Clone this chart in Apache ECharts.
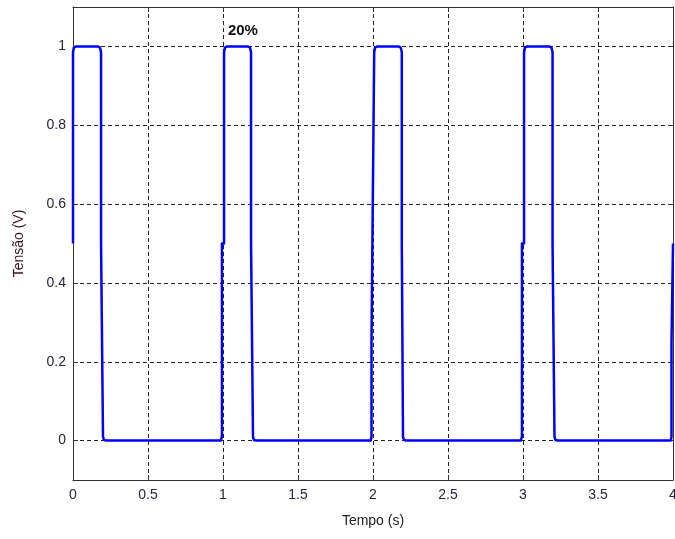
<!DOCTYPE html>
<html>
<head>
<meta charset="utf-8">
<script src="https://cdn.jsdelivr.net/npm/echarts@6/dist/echarts.min.js"></script>
<style>html,body{margin:0;padding:0;background:#fff}#c{width:675px;height:539px}</style>
</head>
<body>
<div id="c"></div>
<script>
// Data (time in s, voltage in V)
var time = [
  0, 0, 0.006, 0.02, 0.165, 0.18, 0.187, 0.187, 0.2, 0.2, 0.206, 0.22,
  0.985, 0.993, 0.993, 1.007, 1.007, 1.013, 1.027, 1.165, 1.18, 1.187, 1.187, 1.2, 1.2, 1.206, 1.22,
  1.985, 1.99, 1.99, 1.996, 1.996, 2.008, 2.008, 2.014, 2.028, 2.17, 2.185, 2.192, 2.192, 2.2, 2.2, 2.206, 2.22,
  2.985, 2.993, 2.993, 3.007, 3.007, 3.013, 3.027, 3.175, 3.19, 3.197, 3.197, 3.21, 3.21, 3.216, 3.23,
  3.985, 3.99, 3.99, 4.0, 4.0
];
var voltage = [
  0.5, 0.985, 0.997, 1, 1, 0.997, 0.985, 0.5, 0.5, 0.01, 0.002, 0,
  0, 0.01, 0.5, 0.5, 0.985, 0.997, 1, 1, 0.997, 0.985, 0.5, 0.5, 0.01, 0.002, 0,
  0, 0.01, 0.25, 0.25, 0.5, 0.5, 0.985, 0.997, 1, 1, 0.997, 0.985, 0.5, 0.5, 0.01, 0.002, 0,
  0, 0.01, 0.5, 0.5, 0.985, 0.997, 1, 1, 0.997, 0.985, 0.5, 0.5, 0.01, 0.002, 0,
  0, 0.01, 0.25, 0.25, 0.5
];
var xTicks = [0, 0.5, 1, 1.5, 2, 2.5, 3, 3.5, 4];
var yTicks = [0, 0.2, 0.4, 0.6, 0.8, 1];
var annotationText = '20%';
var annotationPos = [1.133, 1.04];
var xTitle = 'Tempo (s)';
var yTitle = 'Tensão (V)';

var pts = time.map(function (t, i) { return [t, voltage[i]]; });
var font = '"Liberation Sans", Arial, sans-serif';
var gridLine = { show: true, lineStyle: { color: '#222', type: [4, 3], width: 1 } };

var chart = echarts.init(document.getElementById('c'), null, { renderer: 'canvas' });
chart.setOption({
  animation: false,
  grid: { left: 73, right: 2, top: 7, bottom: 59, containLabel: false, outerBoundsMode: 'none' },
  xAxis: [{
    type: 'value', min: 0, max: 4, interval: 0.5, position: 'bottom',
    name: xTitle, nameLocation: 'middle', nameGap: 34,
    nameTextStyle: { fontFamily: font, fontSize: 14, color: '#222' },
    axisLine: { show: true, onZero: false, lineStyle: { color: '#333', width: 1 } },
    axisTick: { show: true, inside: true, length: 5, lineStyle: { color: '#333' } },
    axisLabel: { fontFamily: font, fontSize: 14, color: '#262640', margin: 8,
      formatter: function (v) { return String(v); } },
    splitLine: gridLine
  }, {
    type: 'value', min: 0, max: 4, interval: 0.5, position: 'top',
    axisLine: { show: true, onZero: false, lineStyle: { color: '#333', width: 1 } },
    axisTick: { show: true, inside: true, length: 5, lineStyle: { color: '#333' } },
    axisLabel: { show: false }, splitLine: { show: false }
  }],
  yAxis: [{
    type: 'value', min: -0.1, max: 1.1, position: 'left',
    name: yTitle, nameLocation: 'middle', nameGap: 47, nameRotate: 90,
    nameTextStyle: { fontFamily: font, fontSize: 14, color: '#3a1020' },
    axisLine: { show: true, onZero: false, lineStyle: { color: '#333', width: 1 } },
    axisTick: { show: true, inside: true, length: 5, customValues: yTicks, lineStyle: { color: '#333' } },
    axisLabel: { fontFamily: font, fontSize: 14, color: '#262640', margin: 7, customValues: yTicks,
      formatter: function (v) { return String(Math.round(v * 10) / 10); } },
    splitLine: gridLine
  }, {
    type: 'value', min: -0.1, max: 1.1, position: 'right',
    axisLine: { show: true, onZero: false, lineStyle: { color: '#333', width: 1 } },
    axisTick: { show: true, inside: true, length: 5, customValues: yTicks, lineStyle: { color: '#333' } },
    axisLabel: { show: false }, splitLine: { show: false }
  }],
  series: [{
    type: 'line', data: pts, showSymbol: false, clip: false,
    lineStyle: { color: '#0000ff', width: 2.5, join: 'round' },
    markPoint: {
      symbol: 'circle', symbolSize: 0,
      label: { show: true, formatter: annotationText, fontFamily: font, fontSize: 15,
        fontWeight: 'bold', color: '#111' },
      data: [{ coord: annotationPos }]
    }
  }]
});
</script>
</body>
</html>
